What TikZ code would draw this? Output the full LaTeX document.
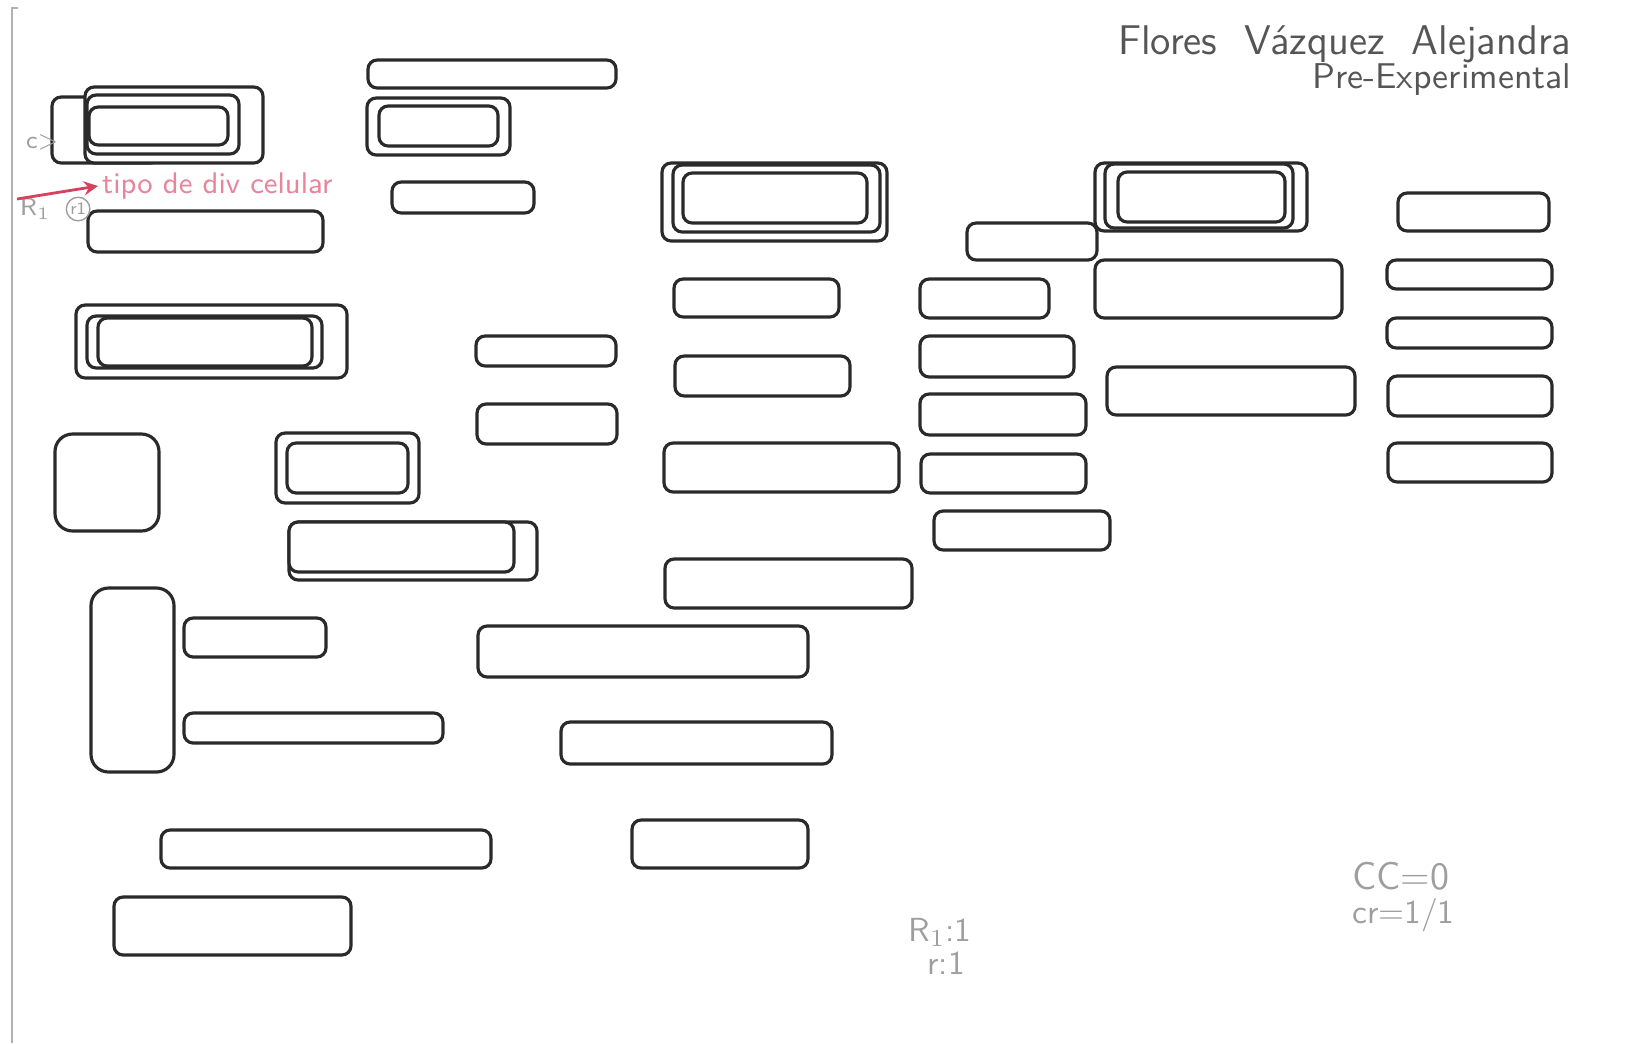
\documentclass[tikz,border=0pt]{standalone}
\usepackage{tikz}
\usetikzlibrary{positioning}
\definecolor{ink}      {HTML}{2A2A2A}
\definecolor{pencil}   {HTML}{9E9E9E}
\definecolor{penname}  {HTML}{555555}
\definecolor{rosa}     {HTML}{E8849C}
\definecolor{rosadark} {HTML}{D8405E}
\tikzset{
  >=stealth,
  every node/.style={font=\sffamily},
  % --- boxes
  cajon/.style  = {draw=ink, line width=0.9pt, rounded corners=2.6pt, fill=white},
  cajong/.style = {cajon, rounded corners=5pt},
  % --- texts
  lapiz/.style  = {text=pencil, inner sep=1pt},
  nombre/.style = {text=penname, anchor=east, inner sep=0pt},
  nota/.style   = {text=rosa, inner sep=1pt, font=\sffamily\fontsize{8.5}{10}\selectfont},
  % --- edges
  flecha/.style = {-stealth, draw=rosadark, line width=0.8pt},
}
\begin{document}
\begin{tikzpicture}[x=0.1mm,y=-0.1mm]
  \useasboundingbox (0,0) rectangle (1632,1043);
  % margin
  \draw[pencil!80, line width=0.6pt] (18,8) -- (12,8) -- (12,1043);

  % boxes, back to front
  \foreach \xa/\ya/\xb/\yb in {
      52/97/160/163, 85/87/263/163, 87/95/239/154, 89/107/228/145, 88/211/323/252,
      368/60/616/88, 367/98/510/155, 379/106/498/146, 392/182/534/213,
      662/163/887/241, 673/165/880/232, 683/173/867/223,
      967/223/1097/260, 1095/163/1307/231, 1105/164/1293/228, 1118/172/1285/222,
      76/305/347/378, 87/316/322/368, 98/318/312/366,
      476/336/616/366, 477/404/617/444,
      674/279/839/317, 675/356/850/396, 664/443/899/492, 665/559/912/608,
      920/279/1049/318, 920/336/1074/377, 920/394/1086/435, 921/454/1086/493, 934/511/1110/550,
      1095/260/1342/318, 1107/367/1355/415,
      1398/193/1549/231, 1387/260/1552/289, 1387/318/1552/348, 1388/376/1552/416, 1388/443/1552/482,
      276/433/419/503, 287/443/408/493, 289/522/537/580, 289/522/514/572,
      184/618/326/657, 184/713/443/743, 478/626/808/677, 561/722/832/764,
      161/830/491/868, 632/820/808/868, 114/897/351/955}
    \draw[cajon] (\xa,\ya) rectangle (\xb,\yb);
  \draw[cajong] (55,434) rectangle (159,531);
  \draw[cajong] (91,588) rectangle (174,772);

  % heading
  \node[nombre, font=\sffamily\fontsize{11.8}{14}\selectfont] (autor) at (1572,44) {Flores\ \ V\'azquez\ \ Alejandra};
  \node[nombre, font=\sffamily\fontsize{10.2}{12}\selectfont] (grupo) at (1572,80) {Pre-Experimental};

  % pencil marks
  \node[lapiz, anchor=west, font=\sffamily\scriptsize] (signo) at (22,142) {c>};
  \node[lapiz, anchor=west, font=\sffamily\scriptsize] (rfila) at (16,209) {R$_1$};
  \node[lapiz, draw=pencil, circle, inner sep=0.4pt, font=\sffamily\tiny, right=3pt of rfila] (rcirc) {r1};
  \node[nota, anchor=west] (tipo) at (98,186) {tipo de div celular};
  \coordinate (inicio) at (17,199);
  \draw[flecha] (inicio) -- (tipo.west);

  \node[lapiz, font=\sffamily\fontsize{9.5}{11}\selectfont] (rcuenta) at (940,932) {R$_1$:1};
  \node[lapiz, font=\sffamily\fontsize{9.5}{11}\selectfont] (rcorr) at (946,963) {r:1};
  \node[lapiz, anchor=west, font=\sffamily\fontsize{11}{13}\selectfont] (cc) at (1348,876) {CC=0};
  \node[lapiz, anchor=west, font=\sffamily\fontsize{9.5}{11}\selectfont] (cr) at (1348,915) {cr=1/1};
\end{tikzpicture}
\end{document}
